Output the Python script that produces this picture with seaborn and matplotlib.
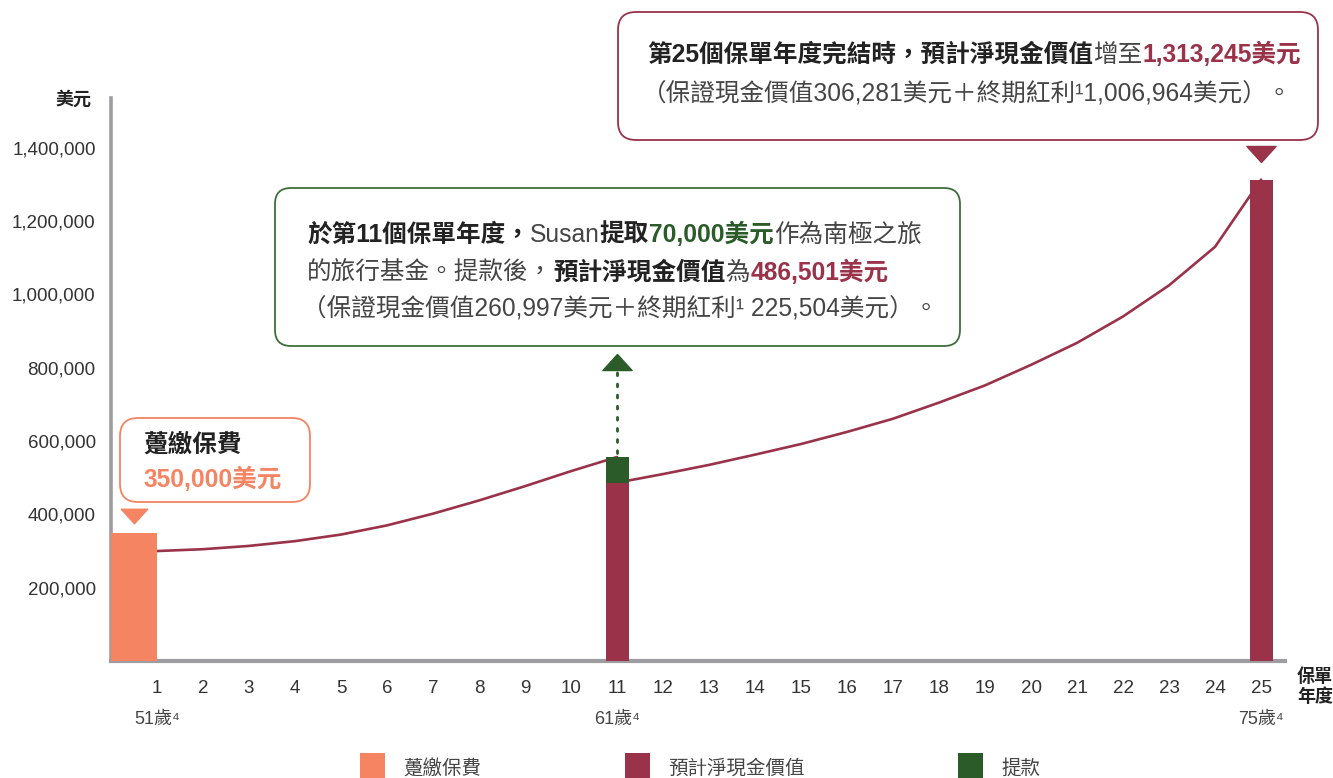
import matplotlib
matplotlib.use("Agg")
import matplotlib.pyplot as plt
import seaborn as sns
from matplotlib.patches import FancyBboxPatch, Rectangle
from matplotlib.path import Path

# ---------------- data ----------------
years_before = [1, 2, 3, 4, 5, 6, 7, 8, 9, 10, 11]
value_before = [300000, 305000, 314000, 327000, 345000, 370000, 402000, 438000, 477000, 518000, 556501]
years_after = [11, 12, 13, 14, 15, 16, 17, 18, 19, 20, 21, 22, 23, 24, 25]
value_after = [486501, 510000, 535000, 563000, 592000, 625000, 661000, 705000, 752000, 808000,
               868000, 940000, 1025000, 1130000, 1313245]
premium = 350000
withdrawal = 70000
withdraw_year = 11
final_year = 25
yticks = [200000, 400000, 600000, 800000, 1000000, 1200000, 1400000]
xticks = list(range(0, 26))
age_labels = {1: "51歲⁴", 11: "61歲⁴", 25: "75歲⁴"}
legend_labels = ["躉繳保費", "預計淨現金價值", "提款"]

ORANGE = "#F48462"
RED = "#9A3249"
GREEN = "#2B5B29"
AXIS = "#9D9DA1"
DARK = "#222222"
GRAY = "#454545"

sns.set_style("white")
plt.rcParams["font.family"] = ["Liberation Sans", "Noto Sans CJK TC", "DejaVu Sans"]

W, H = 1333, 778
fig = plt.figure(figsize=(W / 100, H / 100), dpi=100)
ax = fig.add_axes([111 / W, 1 - 661 / H, (1285 - 111) / W, (661 - 98) / H])

# line (two segments around the withdrawal)
sns.lineplot(x=years_before, y=value_before, ax=ax, color=RED, lw=1.9, zorder=2)
sns.lineplot(x=years_after, y=value_after, ax=ax, color=RED, lw=1.9, zorder=2)

# bars
ax.bar(0.5, premium, width=1.0, color=ORANGE, zorder=3, linewidth=0)
ax.bar([withdraw_year, final_year], [value_after[0], value_after[-1]], width=0.5,
       color=RED, zorder=3, linewidth=0)
ax.bar(withdraw_year, withdrawal, bottom=value_after[0], width=0.5, color=GREEN,
       zorder=3, linewidth=0)

ax.set_xlim(0, 25.52)
ax.set_ylim(0, 1536000)
ax.set_xticks(xticks)
ax.set_xticklabels([""] + [str(i) for i in xticks[1:]])
ax.set_yticks(yticks)
ax.set_yticklabels([f"{v:,}" for v in yticks])
ax.tick_params(axis="x", length=8, width=1, color=AXIS, pad=6, labelsize=13.5, labelcolor="#333333")
ax.tick_params(axis="y", length=6, width=1, color=AXIS, pad=5, labelsize=13.5, labelcolor="#333333")
for s in ["top", "right"]:
    ax.spines[s].set_visible(False)
ax.spines["left"].set_color(AXIS)
ax.spines["left"].set_linewidth(2.6)
ax.spines["bottom"].set_color(AXIS)
ax.spines["bottom"].set_linewidth(3.0)
ax.set_xlabel("")
ax.set_ylabel("")

# age labels
for yr, lab in age_labels.items():
    ax.annotate(lab, xy=(yr, 0), xycoords=("data", "axes fraction"), xytext=(0, -42),
                textcoords="offset points", ha="center", va="center", fontsize=13,
                color=GRAY, annotation_clip=False)

# axis titles
ax.text(92 / W, 1 - 100 / H, "美元", transform=fig.transFigure, ha="right", va="center",
        fontsize=13, fontweight="bold", color=DARK)
ax.text(1297 / W, 1 - 687 / H, "保單\n年度", transform=fig.transFigure, ha="left", va="center",
        fontsize=13, fontweight="bold", color=DARK, linespacing=1.15, clip_on=False)

# markers (triangles)
down_tri = Path([(-1, 0.55), (1, 0.55), (0, -0.55), (-1, 0.55)], closed=True)
up_tri = Path([(-1, -0.55), (1, -0.55), (0, 0.55), (-1, -0.55)], closed=True)
ax.plot([0.5], [premium + 45000], marker=down_tri, ms=19, color=ORANGE, clip_on=False, zorder=4)
ax.plot([final_year], [value_after[-1] + 70000], marker=down_tri, ms=21, color=RED, clip_on=False, zorder=4)
ax.plot([withdraw_year], [value_before[-1] + 260000], marker=up_tri, ms=21, color=GREEN, clip_on=False, zorder=4)
ax.plot([withdraw_year, withdraw_year], [value_before[-1] + 12000, value_before[-1] + 232000],
        color=GREEN, lw=2.0, ls=(0, (1, 3)), dash_capstyle="round", zorder=4, clip_on=False)


def inch(x, y):
    return x / 100, (H - y) / 100


def box(x0, y0, x1, y1, color, r):
    bx, by = inch(x0, y1)
    p = FancyBboxPatch((bx, by), (x1 - x0) / 100, (y1 - y0) / 100,
                       boxstyle=f"round,pad=0,rounding_size={r / 100}",
                       transform=fig.dpi_scale_trans, fc="white", ec=color, lw=1.3,
                       clip_on=False, zorder=5)
    ax.add_patch(p)


def rich(x_px, base_px, segs, size):
    y = 1 - base_px / H
    t, c, w = segs[0]
    prev = ax.text(x_px / W, y, t, transform=fig.transFigure, color=c, fontweight=w,
                   fontsize=size, va="baseline", ha="left", zorder=6, clip_on=False)
    for t, c, w in segs[1:]:
        prev = ax.annotate(t, xy=(1, y), xycoords=(prev, "figure fraction"), va="baseline",
                           ha="left", color=c, fontweight=w, fontsize=size, zorder=6,
                           annotation_clip=False)


# boxes
box(120, 418, 310, 502, ORANGE, 18)
box(275, 188, 960, 346, "#3E6E3C", 16)
box(618, 12, 1318, 140, RED, 18)

FS = 17.7
rich(143, 452, [("躉繳保費", DARK, "bold")], FS)
rich(143, 487, [("350,000美元", ORANGE, "bold")], FS)

rich(307, 242, [("於第11個保單年度，", DARK, "bold"), ("Susan", GRAY, "normal"),
                ("提取", DARK, "bold"), ("70,000美元", GREEN, "bold"),
                ("作為南極之旅", GRAY, "normal")], FS)
rich(307, 280, [("的旅行基金。提款後，", GRAY, "normal"), ("預計淨現金價值", DARK, "bold"),
                ("為", GRAY, "normal"), ("486,501美元", RED, "bold")], FS)
rich(302, 315, [("（保證現金價值260,997美元＋終期紅利¹ 225,504美元）。", GRAY, "normal")], FS)

rich(647, 62, [("第25個保單年度完結時，預計淨現金價值", DARK, "bold"), ("增至", GRAY, "normal"),
               ("1,313,245美元", RED, "bold")], FS)
rich(642, 101, [("（保證現金價值306,281美元＋終期紅利¹1,006,964美元）。", GRAY, "normal")], FS)

# legend
leg_x = [360, 625, 958]
leg_c = [ORANGE, RED, GREEN]
for lx, lc, lt in zip(leg_x, leg_c, legend_labels):
    rx, ry = inch(lx, 778)
    ax.add_patch(Rectangle((rx, ry), 0.25, 0.25, transform=fig.dpi_scale_trans, fc=lc,
                           ec="none", clip_on=False))
    ax.text((lx + 43) / W, 1 - 768 / H, lt, transform=fig.transFigure, ha="left",
            va="center", fontsize=14, color=GRAY, clip_on=False)

fig.savefig("out.png", dpi=100, facecolor="white")
